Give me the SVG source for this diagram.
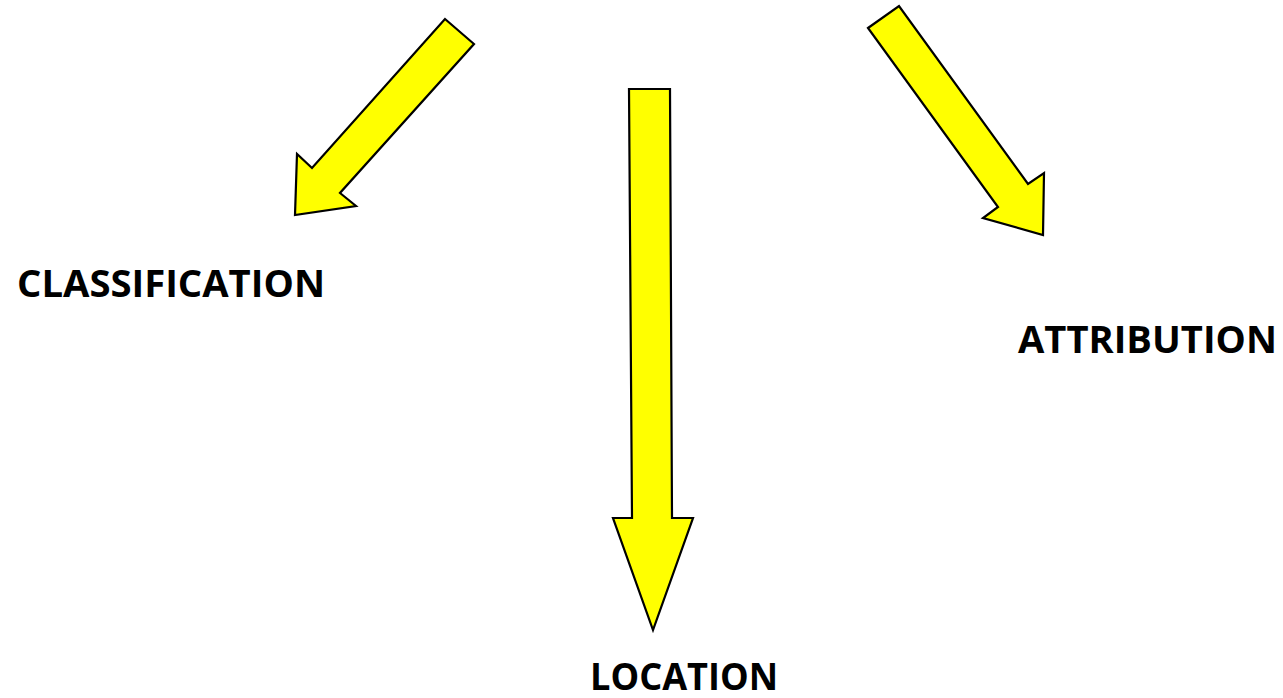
<svg xmlns="http://www.w3.org/2000/svg" width="1283" height="698" viewBox="0 0 1283 698">
  <style>
    .arrow { fill: #ffff00; stroke: #000000; stroke-width: 2.2; stroke-linejoin: miter; }
    .label { font-family: "Open Sans", "Lato", "Liberation Sans", sans-serif; font-weight: 700; font-size: 38px; fill: #000000; }
  </style>
  <rect width="1283" height="698" fill="#ffffff"/>
  <g id="connectors">
    <!-- down-left arrow towards CLASSIFICATION -->
    <polygon class="arrow" points="445,19 474,44 340,193 356,206 295,215 297,154 312,168"/>
    <!-- straight down arrow towards LOCATION -->
    <polygon class="arrow" points="629,89 670,89 672,518 693,518 653,630 613,518 632,518"/>
    <!-- down-right arrow towards ATTRIBUTION -->
    <polygon class="arrow" points="868,28 899,6 1028,184 1044,173 1043,235 983,218 998,207"/>
  </g>
  <g id="classification">
    <text class="label" x="17" y="297" textLength="308" lengthAdjust="spacingAndGlyphs">CLASSIFICATION</text>
  </g>
  <g id="location">
    <text class="label" x="590" y="690" textLength="188" lengthAdjust="spacingAndGlyphs">LOCATION</text>
  </g>
  <g id="attribution">
    <text class="label" x="1018" y="353" textLength="259" lengthAdjust="spacingAndGlyphs">ATTRIBUTION</text>
  </g>
</svg>
